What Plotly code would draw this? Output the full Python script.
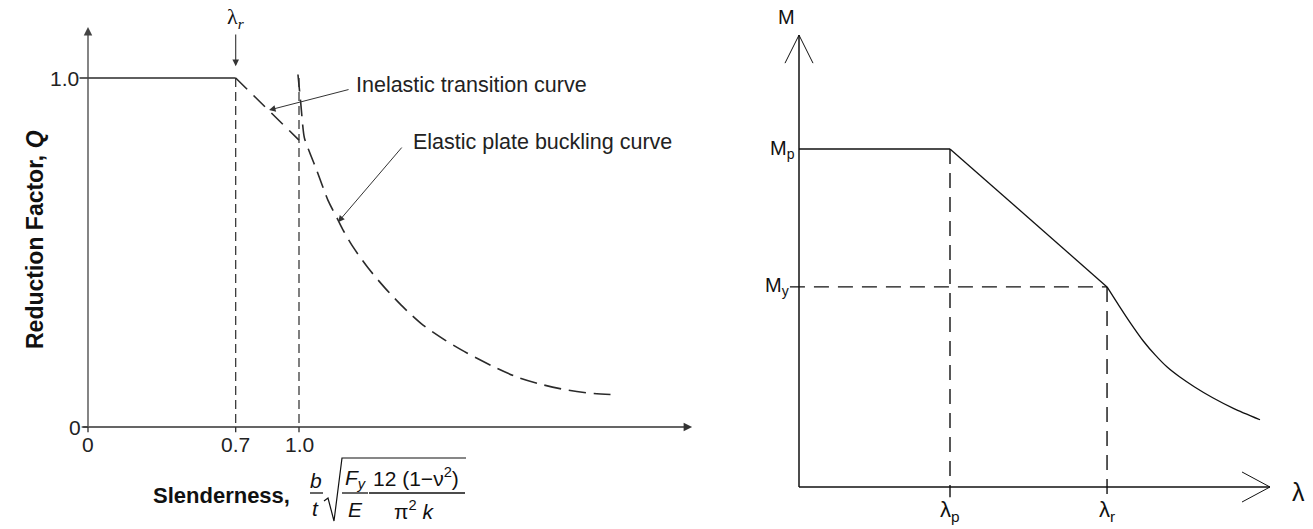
import plotly.graph_objects as go

W, H = 1313, 529
SANS = "Liberation Sans, Arial, Helvetica, sans-serif"
SERIF = "Liberation Serif, Times New Roman, serif"

# ---------------- Left chart data (slenderness vs reduction factor Q) ----------------
x_tick_vals = [0.0, 0.7, 1.0]
x_tick_text = ["0", "0.7", "1.0"]
q_tick_vals = [0.0, 1.0]
q_tick_text = ["0", "1.0"]
lambda_r_left = 0.7
plateau_lam = [0.0, 0.7]
plateau_q = [1.0, 1.0]
inelastic_lam = [0.70, 0.85, 1.00]
inelastic_q = [1.00, 0.91, 0.822]
elastic_lam = [0.995, 1.008, 1.025, 1.045, 1.085, 1.137, 1.185, 1.209, 1.256, 1.327,
               1.408, 1.493, 1.588, 1.692, 1.796, 1.915, 2.033, 2.142, 2.270, 2.379, 2.507]
elastic_q = [1.01, 0.93, 0.83, 0.795, 0.734, 0.650, 0.593, 0.564, 0.516, 0.456,
             0.398, 0.344, 0.292, 0.249, 0.212, 0.175, 0.143, 0.123, 0.106, 0.097, 0.092]

# ---------------- Right chart data (M vs lambda) ----------------
lam_p = 1.0
lam_r = 2.04
M_p = 1.0
M_y = 0.592
mp_lam = [0.0, 1.0]
mp_M = [1.0, 1.0]
inel_lam = [1.0, 2.04]
inel_M = [1.0, 0.592]
el_lam = [2.04, 2.12, 2.20, 2.28, 2.36, 2.44, 2.52, 2.62, 2.74, 2.88, 3.053]
el_M = [0.592, 0.536, 0.482, 0.432, 0.390, 0.354, 0.326, 0.296, 0.264, 0.232, 0.199]

# ---------------- geometry ----------------
L_ORIG, L_SX, L_SY, L_BOX = (88, 427), 211.0, 349.0, (40, 720, 8, 470)
R_ORIG, R_SX, R_SY, R_BOX = (799, 487), 151.0, 338.0, (745, 1313, 5, 525)


def axes(orig, sx, sy, box, anchor):
    x0, x1, yt, yb = box
    xa = dict(domain=[x0 / W, x1 / W], range=[(x0 - orig[0]) / sx, (x1 - orig[0]) / sx],
              visible=False, anchor=anchor[1], fixedrange=True)
    ya = dict(domain=[1 - yb / H, 1 - yt / H], range=[(orig[1] - yb) / sy, (orig[1] - yt) / sy],
              visible=False, anchor=anchor[0], fixedrange=True)
    return xa, ya


def px(x, y):
    return x / W, 1 - y / H


LC = "#2a2a2a"
RC = "#111111"

fig = go.Figure()


def line(xs, ys, ax="x", ay="y", color=LC, width=1.5, dash="solid", shape="linear"):
    fig.add_trace(go.Scatter(x=xs, y=ys, xaxis=ax, yaxis=ay, mode="lines", hoverinfo="skip",
                             line=dict(color=color, width=width, dash=dash, shape=shape,
                                       smoothing=0.7 if shape == "spline" else None)))


# ---- left chart ----
line([-0.04, 0.0], [1.0, 1.0])                          # tick at 1.0
line(plateau_lam, plateau_q, width=1.6)
line([-0.03, 0.0], [0.0, 0.0], width=1.3)               # tick at 0
for v in x_tick_vals:
    line([v, v], [0.0, -0.015], width=1.3)
for v in [lambda_r_left, 1.0]:
    line([v, v], [1.0, 0.0], width=1.2, dash="9px,5px")
line(inelastic_lam, inelastic_q, width=1.6, dash="16px,9px")
line(elastic_lam, elastic_q, width=1.6, dash="17px,8px", shape="spline")

# ---- right chart ----
line([0, 0], [0, 1.337], "x2", "y2", RC, 1.5)
line([0, 3.119], [0, 0], "x2", "y2", RC, 1.5)
line([-0.0927, 0, 0.0927], [1.254, 1.337, 1.254], "x2", "y2", RC, 1.0)
line([2.934, 3.119, 2.934], [0.0444, 0, -0.0444], "x2", "y2", RC, 1.0)
line(mp_lam, mp_M, "x2", "y2", RC, 1.6)
line(inel_lam, inel_M, "x2", "y2", RC, 1.3)
line(el_lam, el_M, "x2", "y2", RC, 1.3, shape="spline")
line([-0.06, lam_r], [M_y, M_y], "x2", "y2", RC, 1.4, "15px,9px")
line([lam_p, lam_p], [M_p, -0.03], "x2", "y2", RC, 1.4, "15px,9px")
line([lam_r, lam_r], [M_y, -0.03], "x2", "y2", RC, 1.4, "15px,9px")

ann = []
shapes = []


def arrow(x, y, axv, ayv, xr="x", yr="y", color="#333", width=1.2, size=1.2, head=2):
    ann.append(dict(x=x, y=y, ax=axv, ay=ayv, xref=xr, yref=yr, axref=xr, ayref=yr, text="",
                    showarrow=True, arrowhead=head, arrowsize=size, arrowwidth=width,
                    arrowcolor=color, standoff=0, startstandoff=0))


def text(t, x, y, xr="x", yr="y", size=20, xanchor="center", yanchor="middle", family=SANS, color="#111"):
    ann.append(dict(x=x, y=y, xref=xr, yref=yr, text=t, showarrow=False, xanchor=xanchor,
                    yanchor=yanchor, font=dict(family=family, size=size, color=color)))


# left axes with arrows
arrow(0, 1.146, 0, -0.002, color="#444", width=1.3, size=1.3)
arrow(2.863, 0, -0.03, 0, color="#333", width=1.3, size=1.3)
# lambda_r marker arrow
arrow(lambda_r_left, 1.034, lambda_r_left, 1.129, color="#333", width=1.1, size=1.2)
text("λ<i><sub>r</sub></i>", lambda_r_left, 1.172, size=22, family=SERIF)

# tick labels (left)
for v, t in zip(x_tick_vals, x_tick_text):
    text(t, v, -0.05, size=21, color="#222")
text(q_tick_text[1], -0.035, q_tick_vals[1], size=21, xanchor="right", color="#222")
text(q_tick_text[0], -0.025, q_tick_vals[0], size=21, xanchor="right", color="#222")

# callouts
text("Inelastic transition curve", 1.262, 0.980, size=21.5, xanchor="left", color="#222")
arrow(0.858, 0.908, 1.242, 0.968, color="#333", width=1.0, size=1.3)
text("Elastic plate buckling curve", 1.533, 0.817, size=21.5, xanchor="left", color="#222")
arrow(1.185, 0.587, 1.493, 0.805, color="#333", width=1.0, size=1.3)

# y title (left)
ann.append(dict(x=20 / W, y=1 - 240 / H, xref="paper", yref="paper", text="<b>Reduction Factor, <i>Q</i></b>",
                showarrow=False, textangle=-90, font=dict(family=SANS, size=23, color="#111")))


# x title (left) : Slenderness, b/t sqrt(Fy/E * 12(1-v^2)/(pi^2 k))
def ptext(t, x, y, size=21, xanchor="center"):
    X, Y = px(x, y)
    ann.append(dict(x=X, y=Y, xref="paper", yref="paper", text=t, showarrow=False,
                    xanchor=xanchor, yanchor="middle", font=dict(family=SANS, size=size, color="#111")))


def pline(x0, y0, x1, y1, w=1.3):
    X0, Y0 = px(x0, y0)
    X1, Y1 = px(x1, y1)
    shapes.append(dict(type="line", xref="paper", yref="paper", x0=X0, y0=Y0, x1=X1, y1=Y1,
                       line=dict(color="#111", width=w)))


ptext("<b>Slenderness,</b>", 292, 495, size=22, xanchor="right")
ptext("<i>b</i>", 316, 480)
pline(310, 493, 323, 493)
ptext("<i>t</i>", 315, 508)
pts = [(324, 501), (328, 498), (334, 521), (342, 458), (466, 458)]
path = "M " + " L ".join(f"{px(a, b)[0]},{px(a, b)[1]}" for a, b in pts)
shapes.append(dict(type="path", xref="paper", yref="paper", path=path, line=dict(color="#111", width=1.2)))
ptext("<i>F</i><sub><i>y</i></sub>", 356, 479)
pline(342, 493, 368, 493)
ptext("<i>E</i>", 355, 509)
ptext("12 (1−ν<sup>2</sup>)", 416, 477)
pline(369, 493, 465, 493)
ptext("π<sup>2</sup> <i>k</i>", 414, 510)

# right chart labels
text("M", -0.086, 1.39, "x2", "y2", size=20)
text("M<sub>p</sub>", -0.012, M_p, "x2", "y2", size=20, xanchor="right")
text("M<sub>y</sub>", -0.05, M_y, "x2", "y2", size=20, xanchor="right")
text("λ<sub>p</sub>", lam_p, -0.072, "x2", "y2", size=22)
text("λ<sub>r</sub>", lam_r, -0.072, "x2", "y2", size=22)
text("λ", 3.31, -0.015, "x2", "y2", size=25)

xa, ya = axes(L_ORIG, L_SX, L_SY, L_BOX, ("x", "y"))
xa2, ya2 = axes(R_ORIG, R_SX, R_SY, R_BOX, ("x2", "y2"))

fig.update_layout(
    width=W, height=H, autosize=False,
    margin=dict(l=0, r=0, t=0, b=0),
    paper_bgcolor="white", plot_bgcolor="rgba(0,0,0,0)",
    showlegend=False,
    xaxis=xa, yaxis=ya, xaxis2=xa2, yaxis2=ya2,
    annotations=ann, shapes=shapes,
)

fig.write_html("out.html", config={"displayModeBar": False},
               post_script="document.body.style.margin='0';document.body.style.overflow='hidden';")
